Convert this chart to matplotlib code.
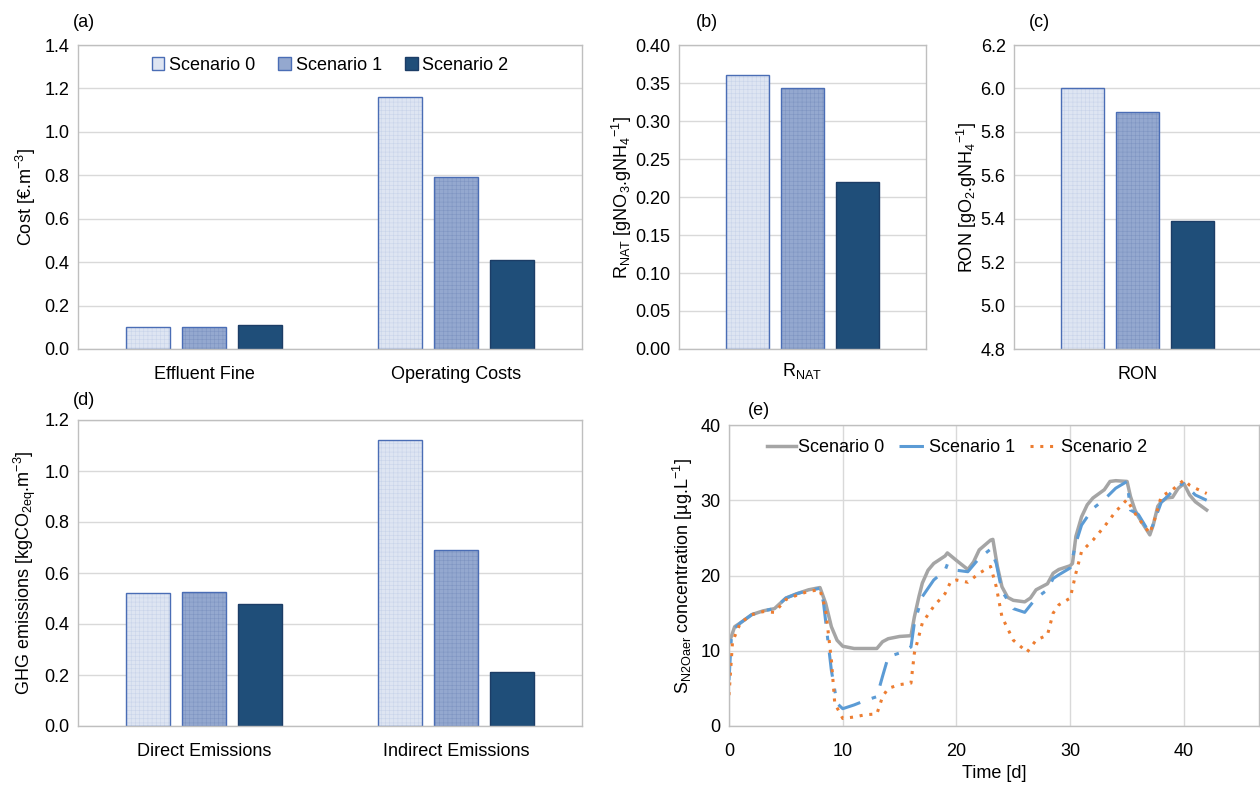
import matplotlib
matplotlib.use('Agg')
import matplotlib.pyplot as plt
import numpy as np
from matplotlib.patches import Patch

plt.rcParams['font.family'] = ['Liberation Sans', 'DejaVu Sans']
plt.rcParams['mathtext.fontset'] = 'custom'
plt.rcParams['mathtext.rm'] = 'Liberation Sans'
plt.rcParams['mathtext.it'] = 'Liberation Sans'
plt.rcParams['mathtext.default'] = 'rm'
plt.rcParams['font.size'] = 13
plt.rcParams['hatch.linewidth'] = 0.4

FS = 13

# data
scenarios = ['Scenario 0', 'Scenario 1', 'Scenario 2']
cost_cats = ['Effluent Fine', 'Operating Costs']
cost_vals = [[0.10, 1.16], [0.10, 0.79], [0.11, 0.41]]
rnat_vals = [0.360, 0.343, 0.220]
ron_vals = [6.00, 5.89, 5.39]
ghg_cats = ['Direct Emissions', 'Indirect Emissions']
ghg_vals = [[0.52, 1.12], [0.525, 0.69], [0.48, 0.21]]

t0 = [0, 0.5, 1, 2, 3, 4, 4.5, 5, 6, 7, 8, 8.5, 9, 9.5, 10, 11, 13, 13.5, 14, 15, 16,
      16.3, 16.7, 17, 17.5, 18, 19, 19.2, 20, 21, 21.5, 22, 23, 23.2, 23.6, 24, 24.5,
      25, 26, 26.5, 27, 28, 28.5, 29, 30, 30.2, 30.5, 31, 31.5, 32, 33, 33.5, 34, 35,
      35.3, 35.7, 36, 37, 37.3, 37.7, 38, 38.5, 39, 39.5, 40, 40.5, 41, 42]
s0 = [11.0, 13.2, 13.7, 14.8, 15.3, 15.6, 16.3, 17.0, 17.6, 18.1, 18.4, 16.3, 13.2, 11.4,
      10.6, 10.3, 10.3, 11.2, 11.6, 11.9, 12.0, 14.5, 17.2, 19.0, 20.7, 21.6, 22.6, 23.0,
      22.0, 20.8, 21.8, 23.4, 24.7, 24.8, 21.2, 18.5, 17.1, 16.7, 16.5, 17.0, 18.1, 18.9,
      20.3, 20.8, 21.3, 21.6, 25.2, 27.8, 29.4, 30.3, 31.4, 32.5, 32.6, 32.5, 30.5, 28.7,
      27.8, 25.4, 26.7, 29.2, 29.8, 30.3, 30.4, 31.6, 32.2, 30.7, 29.8, 28.7]
t1 = [0, 0.2, 0.5, 1, 2, 3, 4, 5, 6, 7, 8, 8.3, 9, 9.5, 10, 11, 12, 13, 13.5, 14, 15, 16,
      16.3, 17, 18, 19, 19.2, 20, 21, 22, 23, 23.5, 24, 25, 26, 27, 28, 28.5, 29, 30,
      30.5, 31, 32, 33, 34, 35, 35.3, 36, 37, 38, 39, 39.5, 40, 41, 42]
s1 = [6.1, 11.5, 13.0, 13.7, 14.8, 15.3, 15.6, 17.0, 17.6, 18.0, 18.3, 16.5, 7.4, 3.0, 2.3,
      2.8, 3.4, 3.9, 6.6, 9.2, 9.7, 10.5, 13.7, 17.2, 19.4, 20.7, 21.5, 20.7, 20.5, 22.3,
      23.5, 21.6, 17.9, 15.6, 15.1, 17.0, 18.1, 19.6, 20.1, 21.0, 24.3, 26.7, 28.9, 30.1,
      31.6, 32.5, 28.7, 28.1, 25.6, 29.7, 31.2, 32.0, 32.2, 30.7, 30.0]
t2 = [0, 0.3, 0.5, 1, 2, 3, 4, 5, 6, 7, 8, 8.5, 9, 9.3, 10, 11, 12, 13, 13.5, 14, 15, 16,
      16.3, 16.6, 17, 18, 19, 19.5, 20, 21, 22, 23, 23.5, 24, 25, 26, 26.2, 27, 28, 28.5,
      29, 30, 30.5, 31, 32, 33, 34, 35, 35.5, 36, 37, 37.5, 38, 39, 40, 40.5, 41, 42]
s2 = [4.1, 11.0, 11.9, 13.7, 14.8, 15.2, 15.1, 16.8, 17.4, 17.9, 18.1, 15.4, 8.8, 3.0, 1.0,
      1.2, 1.5, 1.6, 3.9, 5.0, 5.5, 5.7, 9.7, 11.4, 13.7, 15.9, 17.6, 19.2, 19.4, 19.1,
      20.3, 21.2, 18.5, 14.5, 11.4, 10.1, 9.8, 11.4, 12.1, 15.0, 16.1, 17.0, 20.3, 23.2,
      24.7, 26.5, 28.5, 30.1, 28.7, 27.6, 25.6, 27.8, 30.5, 31.4, 32.7, 32.0, 31.6, 30.9]

faces = ['#dee5f2', '#94a8cf', '#1f4e79']
hatch_cols = ['#c9d4ea', '#7f95c2', '#1f4e79']
edges = ['#4a6db5', '#4a6db5', '#1c3d66']
hatches = ['++++', '++++', None]
grid_c = '#d9d9d9'
spine_c = '#bfbfbf'

W, H = 1260, 787
fig = plt.figure(figsize=(W / 100, H / 100), dpi=100)


def px_axes(x0, x1, ytop, ybot):
    return fig.add_axes([x0 / W, (H - ybot) / H, (x1 - x0) / W, (ybot - ytop) / H])


def style(ax, xpad=12):
    for s in ax.spines.values():
        s.set_color(spine_c)
        s.set_linewidth(1.0)
    ax.tick_params(length=0, labelsize=FS, pad=6)
    ax.tick_params(axis='x', pad=xpad)
    ax.set_axisbelow(True)
    ax.yaxis.grid(True, color=grid_c, lw=1.0)


def bars(ax, ncat, vals):
    x = np.arange(ncat)
    w = 0.175
    step = 0.224
    for i in range(3):
        pos = x + (i - 1) * step
        ax.bar(pos, vals[i], w, color=faces[i], edgecolor=hatch_cols[i], hatch=hatches[i],
               linewidth=0)
        ax.bar(pos, vals[i], w, facecolor='none', edgecolor=edges[i], linewidth=1.0)
    ax.set_xlim(-0.5, ncat - 0.5)


# (a)
ax = px_axes(78, 582, 45, 349)
style(ax)
bars(ax, 2, cost_vals)
ax.set_ylim(0, 1.4)
ax.set_yticks(np.arange(0, 1.41, 0.2))
ax.set_yticklabels(['%.1f' % v for v in np.arange(0, 1.41, 0.2)])
ax.set_xticks([0, 1])
ax.set_xticklabels(cost_cats)
ax.set_ylabel('Cost [€.m$^{-3}$]', fontsize=FS, labelpad=5)
handles = [Patch(facecolor=faces[i], edgecolor=edges[i], label=scenarios[i]) for i in range(3)]
ax.legend(handles=handles, loc='upper center', bbox_to_anchor=(0.5, 1.0), ncol=3,
          frameon=False, fontsize=FS, handlelength=0.7, handleheight=0.7,
          handletextpad=0.25, columnspacing=1.3, borderaxespad=0.25)
ax.text(-0.01, 1.045, '(a)', transform=ax.transAxes, fontsize=FS, ha='left', va='bottom')

# (b)
ax = px_axes(679, 926, 45, 349)
style(ax, xpad=9)
bars(ax, 1, [[v] for v in rnat_vals])
ax.set_ylim(0, 0.40)
ax.set_yticks(np.arange(0, 0.401, 0.05))
ax.set_yticklabels(['%.2f' % v for v in np.arange(0, 0.401, 0.05)])
ax.set_xticks([0])
ax.set_xticklabels(['R$_{NAT}$'])
ax.set_ylabel('R$_{NAT}$ [gNO$_3$.gNH$_4$$^{-1}$]', fontsize=FS, labelpad=1)
ax.text(0.07, 1.045, '(b)', transform=ax.transAxes, fontsize=FS, ha='left', va='bottom')

# (c)
ax = px_axes(1014, 1261, 45, 349)
style(ax)
bars(ax, 1, [[v] for v in ron_vals])
ax.set_ylim(4.8, 6.2)
ax.set_yticks(np.arange(4.8, 6.21, 0.2))
ax.set_yticklabels(['%.1f' % v for v in np.arange(4.8, 6.21, 0.2)])
ax.set_xticks([0])
ax.set_xticklabels(['RON'])
ax.set_ylabel('RON [gO$_2$.gNH$_4$$^{-1}$]', fontsize=FS, labelpad=1)
ax.text(0.06, 1.045, '(c)', transform=ax.transAxes, fontsize=FS, ha='left', va='bottom')

# (d)
ax = px_axes(78, 582, 420, 726)
style(ax)
bars(ax, 2, ghg_vals)
ax.set_ylim(0, 1.2)
ax.set_yticks(np.arange(0, 1.21, 0.2))
ax.set_yticklabels(['%.1f' % v for v in np.arange(0, 1.21, 0.2)])
ax.set_xticks([0, 1])
ax.set_xticklabels(ghg_cats)
ax.set_ylabel('GHG emissions [kgCO$_{2eq}$.m$^{-3}$]', fontsize=FS, labelpad=5)
ax.text(-0.01, 1.035, '(d)', transform=ax.transAxes, fontsize=FS, ha='left', va='bottom')

# (e)
ax = px_axes(729, 1259, 425, 726)
style(ax, xpad=12)
ax.xaxis.grid(True, color=grid_c, lw=1.0)
ax.plot(t0, s0, color='#a5a5a5', lw=2.5, label='Scenario 0')
ax.plot(t1, s1, color='#5b9bd5', lw=2.2, dashes=(8, 4, 1.5, 4), label='Scenario 1')
ax.plot(t2, s2, color='#ed7d31', lw=2.2, dashes=(1, 2.2), label='Scenario 2')
ax.set_xlim(0, 46.6)
ax.set_ylim(0, 40)
ax.set_xticks([0, 10, 20, 30, 40])
ax.set_yticks([0, 10, 20, 30, 40])
ax.set_xlabel('Time [d]', fontsize=FS, labelpad=4)
ax.set_ylabel('S$_{N2Oaer}$ concentration [µg.L$^{-1}$]', fontsize=FS, labelpad=4)
ax.legend(loc='upper center', bbox_to_anchor=(0.43, 1.0), ncol=3, frameon=False,
          fontsize=FS, handlelength=1.6, handletextpad=0.1, columnspacing=0.8,
          borderaxespad=0.4)
ax.text(0.035, 1.02, '(e)', transform=ax.transAxes, fontsize=FS, ha='left', va='bottom')

fig.savefig('out.png', dpi=100)
